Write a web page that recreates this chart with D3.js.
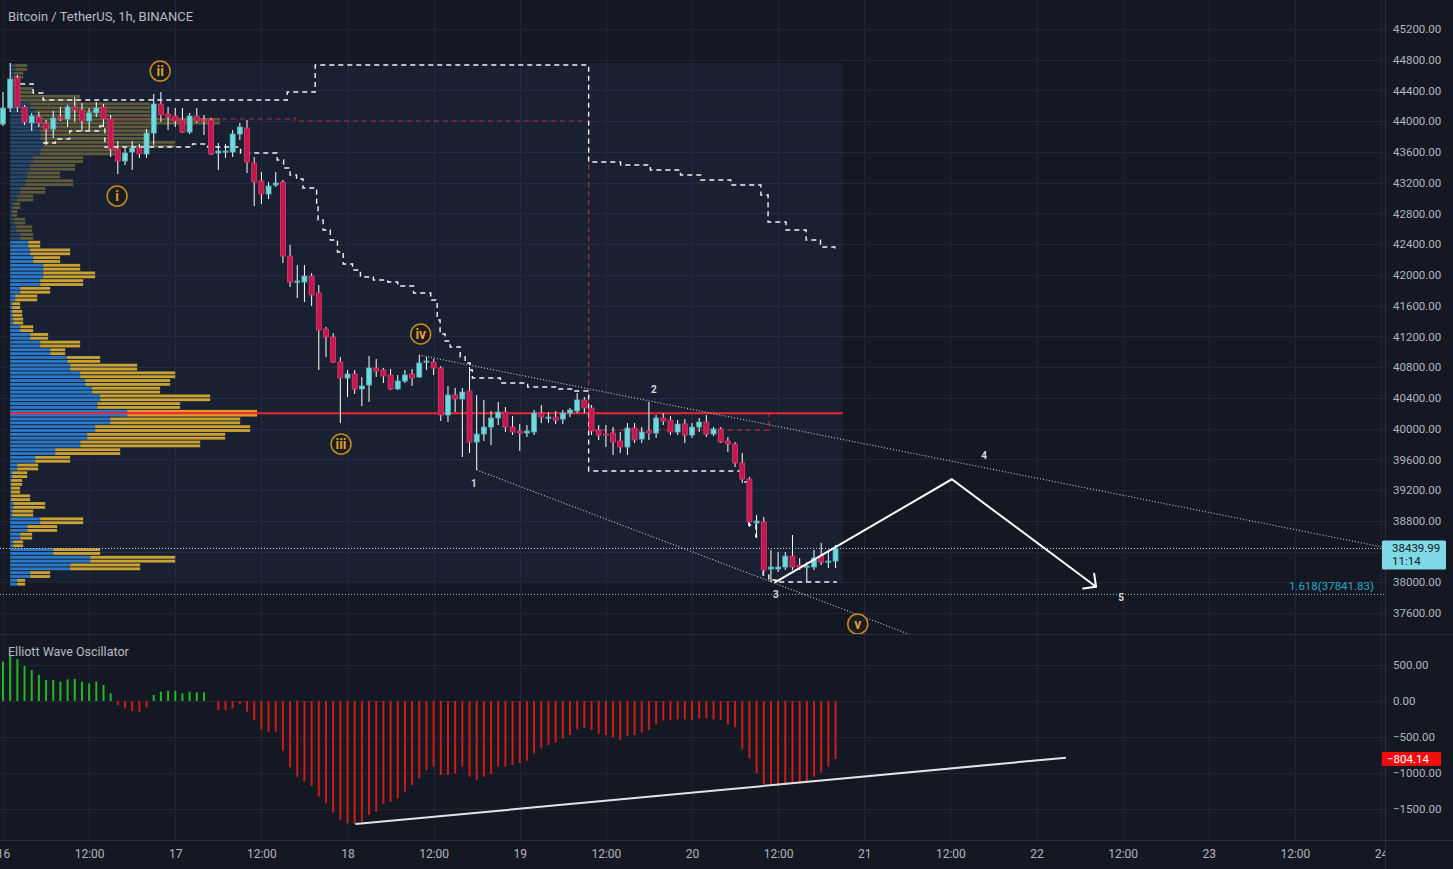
<!DOCTYPE html>
<html><head><meta charset="utf-8">
<script src="https://cdn.jsdelivr.net/npm/d3@7"></script>
<style>
html,body{margin:0;padding:0;background:#141823;overflow:hidden}
svg{display:block}
text{font-family:Roboto,"Noto Sans",sans-serif}
</style></head><body>
<svg id="c" width="1453" height="869"></svg>
<script>
// ---------------- DATA ----------------
const title = "Bitcoin / TetherUS, 1h, BINANCE";
const oscTitle = "Elliott Wave Oscillator";
const startTime = Date.UTC(2022, 0, 16, 0, 0);   // first candle, hourly bars
const endTime = Date.UTC(2022, 0, 24, 0, 0);

const opens = [43963,44172,44562,44185,43977,44055,43977,43898,44055,44029,44185,44146,44003,44107,44185,44029,43638,43482,43599,43651,
43573,43846,44224,44094,44068,44016,43859,44068,44016,44016,43586,43599,43599,43833,43911,43456,43222,43053,43170,43209,
42246,41907,41907,41985,41764,41296,41191,40866,40658,40710,40515,40567,40788,40762,40697,40515,40619,40710,40671,40866,
40866,40788,40177,40437,40385,40489,39825,39929,40020,40137,40215,40020,39968,39942,39955,40202,40137,40150,40124,40202,
40229,40372,40268,39981,39929,39942,39838,39760,40007,39864,39968,39942,40137,40111,39955,40059,39916,40020,40085,39929,
39994,39838,39799,39552,39343,38771,38784,38172,38172,38198,38341,38224,38198,38198,38341,38263,38276];
const highs = [44380,44757,44601,44211,44107,44120,44016,44133,44185,44211,44315,44237,44172,44250,44224,44081,43742,43651,43742,43703,
43898,44354,44380,44185,44172,44172,44107,44172,44081,44042,43716,43703,43885,43977,44016,43534,43339,43209,43339,43235,
42389,42128,42128,42024,41868,41322,41243,40931,40762,40762,40671,40944,40905,40788,40775,40697,40762,40775,40957,40931,
40905,40814,40554,40528,40528,40801,40437,40372,40229,40346,40281,40163,40059,40046,40242,40307,40215,40229,40242,40268,
40463,40411,40307,40046,40046,40020,39955,40072,40072,40020,40346,40176,40202,40163,40111,40124,40072,40137,40176,40020,
40020,39890,39825,39682,39369,38875,38849,38420,38393,38393,38615,38315,38263,38420,38511,38393,38485];
const lows = [43937,44120,44120,43950,43872,43924,43690,43781,44003,43924,43990,43872,43885,44055,43924,43534,43313,43430,43365,43521,
43521,43690,43990,43885,43924,43846,43833,43977,43820,43560,43365,43521,43534,43755,43326,42896,42922,42987,43144,42155,
41842,41699,41647,41595,40762,40931,40853,40072,40411,40450,40294,40346,40671,40593,40502,40502,40593,40554,40658,40762,
40697,40098,40085,40215,39630,39682,39461,39838,39786,40046,39955,39916,39708,39890,39916,40072,40072,40059,40059,40150,
40202,40202,39916,39851,39760,39656,39682,39656,39812,39812,39851,39877,40046,39916,39916,39812,39877,39955,39890,39903,
39812,39695,39500,39292,38719,38589,38120,38003,38133,38159,38159,38159,38003,38159,38224,38185,38185];
const closes = [44172,44549,44185,43990,44068,43977,43898,44042,44029,44185,44146,44003,44107,44172,44029,43638,43482,43586,43651,43573,
43846,44224,44081,44055,44003,43859,44068,44003,44003,43573,43612,43612,43833,43924,43469,43209,43053,43157,43196,42246,
41907,41920,41985,41738,41283,41191,40866,40658,40710,40515,40554,40788,40749,40684,40515,40619,40697,40658,40853,40879,
40788,40177,40437,40385,40476,39825,39929,40020,40137,40215,40020,39955,39942,39968,40202,40150,40150,40111,40202,40242,
40372,40268,39968,39916,39916,39825,39760,40007,39851,39955,39942,40137,40098,39955,40059,39916,40020,40085,39929,39994,
39825,39799,39552,39343,38784,38797,38159,38198,38198,38341,38198,38198,38211,38315,38263,38276,38439.99];

const ewo = [545,625,580,486,430,361,292,292,268,301,306,268,245,268,222,107,-56,-102,-139,-148,
-88,83,130,143,143,107,130,120,120,-10,-125,-134,-102,-42,-148,-264,-393,-426,-426,-690,
-921,-1051,-1120,-1180,-1329,-1421,-1551,-1653,-1699,-1708,-1676,-1583,-1537,-1431,-1398,-1352,-1259,-1167,-1074,-958,
-912,-1028,-1028,-1005,-912,-1051,-1097,-1051,-1014,-912,-912,-889,-866,-829,-727,-657,-611,-579,-518,-472,
-393,-370,-403,-458,-472,-505,-542,-486,-472,-440,-403,-324,-273,-264,-255,-255,-264,-241,-241,-255,
-264,-324,-366,-671,-796,-1005,-1153,-1167,-1180,-1167,-1153,-1134,-1120,-1051,-995,-912,-804.14];

const priceTicks = [37600,38000,38400,38800,39200,39600,40000,40400,40800,41200,41600,42000,42400,42800,43200,43600,44000,44400,44800,45200];
const ewoTicks = [500, 0, -500, -1000, -1500];

// visible-range volume profile (100 USDT rows, from 38000 upward)
const profileLevels = d3.range(38000, 44701, 100);
const profileUp = [70,200,600,800,430,30,100,170,300,20,30,10,10,10,20,70,250,450,700,770,
850,1000,1170,870,900,820,750,700,600,570,400,300,200,100,30,20,20,50,100,300,
330,330,230,200,180,100,60,40,20,30,70,100,150,170,200,230,300,330,300,300,
300,250,200,100,60,30,40,50];
const profileDown = [80,200,700,850,470,100,120,300,430,210,320,190,90,110,150,210,350,650,1200,1380,
1550,1300,1300,830,1100,680,850,950,670,330,150,400,180,130,100,100,80,220,300,430,
520,370,270,400,120,130,160,110,50,70,160,250,480,330,450,500,770,1320,1100,1100,
1800,1150,1200,600,170,70,90,120];
const pocPrice = 40200;
const dimAbove = 42450;

// developing bands (hour offset, price)
const upperBandH = [2.4,4.2,5.6,39.6,43.5,81.45,81.6,86.05,90.2,94.4,97.2,101.4,105.6,106.6,109.1,111.9,113.9,115.9];
const upperBandP = [44484,44367,44276,44380,44731,44731,43469,43430,43365,43300,43235,43169,43040,42688,42584,42454,42363,42324];
const lowerBandH = [5.6,7.3,9.3,13.5,14.2,26.4,28.5,33.1,38.2,39.1,40.0,40.9,41.8,43.7,43.9,44.6,45.6,46.6,47.4,48.7,
49.8,51.6,53.6,55.0,57.2,59.6,60.5,60.9,61.6,62.3,63.7,64.4,65.1,65.4,69.3,73.1,77.3,79.5,81.5,
81.6,102.5,103.2,103.9,104.9,105.9,106.7,107.7,116.2];
const lowerBandP = [43716,43768,43872,43937,43664,43703,43664,43586,43495,43391,43300,43248,43131,42909,42714,42584,42454,42298,42142,42064,
41972,41933,41907,41855,41764,41673,41413,41231,41140,41061,40931,40853,40762,40658,40593,40541,40515,40489,40463,
39448,39448,39304,38745,38589,38094,38029,38003,38003];
const devPocH = [14.2,40.0,40.7,81.45,81.6,106.6,106.7];
const devPocP = [44029,44042,44003,44003,39981,39981,40189];

// trend lines (two anchors each)
const upperTrendH = [58, 119.5], upperTrendP = [40957, 39812];
const lowerTrendH = [66, 97.2],  lowerTrendP = [39461, 38354];
// projected wave path 3 -> 4 -> 5
const projH = [107.5, 132.2, 152.3], projP = [37995, 39340, 37942];
// oscillator divergence line
const ewoTrendH = [49.1, 148.1], ewoTrendV = [-1710, -787];

const lastPrice = 38439.99, countdown = "11:14";
const fibLevelText = "1.618(37841.83)", fibLevel = 37841.83;
const lastEwo = -804.14;

const waveNames = ["i","ii","iii","iv","v"];
const waveH = [15.9, 21.9, 47.1, 58.2, 119.1];
const waveP = [43026, 44653, 39799, 41231, 37456];
const subNames = ["1","2","3","4","5"];
const subH = [65.6, 90.7, 107.7, 136.7, 155.8];
const subP = [39291, 40515, 37847, 39656, 37808];

// ---------------- LAYOUT ----------------
const W = 1453, H = 869, plotR = 1385;
const priceTop = 0, priceBot = 634, oscTop = 635, oscBot = 840;
const svg = d3.select("#c");
const tAt = h => new Date(startTime + h * 3600e3);

const x = d3.scaleUtc().domain([new Date(startTime), new Date(endTime)]).range([3, 1381]);
const y = d3.scaleLinear().domain([37600, 45200]).range([613, 29]);
const yo = d3.scaleLinear().domain([-1500, 500]).range([809, 665]);
const vol = d3.scaleLinear().domain([0, d3.max(profileUp.map((u, i) => u + profileDown[i]))]).range([0, 247]);

svg.append("rect").attr("width", W).attr("height", H).attr("fill", "#141823");
const defs = svg.append("defs");
defs.append("clipPath").attr("id", "pc").append("rect").attr("x", 0).attr("y", priceTop).attr("width", plotR).attr("height", priceBot - priceTop);
defs.append("clipPath").attr("id", "oc").append("rect").attr("x", 0).attr("y", oscTop).attr("width", plotR).attr("height", oscBot - oscTop);
defs.append("clipPath").attr("id", "tc").append("rect").attr("x", 0).attr("y", oscBot).attr("width", plotR).attr("height", H - oscBot);

const gridColor = "#212533";
const timeTicks = d3.utcHour.every(12).range(new Date(startTime), new Date(endTime + 1));
// grid
const grid = svg.append("g");
grid.selectAll(".vg").data(timeTicks).join("line")
  .attr("x1", d => Math.round(x(d)) + 0.5).attr("x2", d => Math.round(x(d)) + 0.5)
  .attr("y1", 0).attr("y2", oscBot).attr("stroke", gridColor);
grid.selectAll(".hg").data(priceTicks).join("line")
  .attr("x1", 0).attr("x2", plotR).attr("y1", d => Math.round(y(d)) + 0.5).attr("y2", d => Math.round(y(d)) + 0.5)
  .attr("stroke", gridColor);
grid.selectAll(".og").data(ewoTicks).join("line")
  .attr("x1", 0).attr("x2", plotR).attr("y1", d => Math.round(yo(d)) + 0.5).attr("y2", d => Math.round(yo(d)) + 0.5)
  .attr("stroke", gridColor);

// ---------------- PRICE PANE ----------------
const pp = svg.append("g").attr("clip-path", "url(#pc)");
const n = closes.length;
const boxX0 = x(tAt(1)), boxX1 = x(tAt(n));
const hiAll = d3.max(highs), loAll = d3.min(lows);
pp.append("rect").attr("x", boxX0).attr("y", y(hiAll)).attr("width", boxX1 - boxX0).attr("height", y(loAll) - y(hiAll))
  .attr("fill", "rgba(70,110,180,0.10)");

// volume profile
const step = Math.abs(y(100) - y(0));
const prof = pp.append("g");
profileLevels.forEach((lv, i) => {
  const yc = y(lv);
  const dim = lv > dimAbove;
  const bCol = dim ? "#26466a" : "#2a78c8";
  const gCol = dim ? "#5f5a3c" : (lv === pocPrice ? "#e39a2c" : "#c9a233");
  const wU = vol(profileUp[i]), wT = vol(profileUp[i] + profileDown[i]);
  [yc - step / 2 + 0.5, yc + 0.5].forEach(sy => {
    prof.append("rect").attr("x", boxX0).attr("y", sy).attr("width", wU).attr("height", step / 2 - 1).attr("fill", bCol);
    prof.append("rect").attr("x", boxX0 + wU).attr("y", sy).attr("width", wT - wU).attr("height", step / 2 - 1).attr("fill", gCol);
  });
});

// POC line
pp.append("line").attr("x1", boxX0).attr("x2", boxX1).attr("y1", y(pocPrice)).attr("y2", y(pocPrice))
  .attr("stroke", "#f0262f").attr("stroke-width", 2);

// developing lines
const stepLine = d3.line().x(d => x(tAt(d[0]))).y(d => y(d[1])).curve(d3.curveStepAfter);
pp.append("path").attr("d", stepLine(devPocH.map((h, i) => [h, devPocP[i]])))
  .attr("fill", "none").attr("stroke", "#c62a35").attr("stroke-width", 1.2).attr("stroke-dasharray", "5,4").attr("opacity", 0.9);
pp.append("path").attr("d", stepLine(upperBandH.map((h, i) => [h, upperBandP[i]])))
  .attr("fill", "none").attr("stroke", "#f2f2f2").attr("stroke-width", 1.4).attr("stroke-dasharray", "5,4");
pp.append("path").attr("d", stepLine(lowerBandH.map((h, i) => [h, lowerBandP[i]])))
  .attr("fill", "none").attr("stroke", "#f2f2f2").attr("stroke-width", 1.4).attr("stroke-dasharray", "5,4");

// horizontal dotted lines
pp.append("line").attr("x1", 0).attr("x2", plotR).attr("y1", y(lastPrice)).attr("y2", y(lastPrice))
  .attr("stroke", "#d6d9e0").attr("stroke-dasharray", "1,2");
pp.append("line").attr("x1", 0).attr("x2", plotR).attr("y1", y(fibLevel)).attr("y2", y(fibLevel))
  .attr("stroke", "#8fc4e0").attr("stroke-dasharray", "1,2");
pp.append("text").attr("x", 1374).attr("y", y(fibLevel) - 4).attr("text-anchor", "end")
  .attr("font-size", 11.5).attr("fill", "#2ba7c8").text(fibLevelText);

// trend lines
function ray(hs, ps, xEnd) {
  const x0 = x(tAt(hs[0])), y0 = y(ps[0]), x1 = x(tAt(hs[1])), y1 = y(ps[1]);
  const s = (y1 - y0) / (x1 - x0);
  return [x0, y0, xEnd, y0 + s * (xEnd - x0)];
}
[ray(upperTrendH, upperTrendP, plotR), ray(lowerTrendH, lowerTrendP, plotR)].forEach(r => {
  pp.append("line").attr("x1", r[0]).attr("y1", r[1]).attr("x2", r[2]).attr("y2", r[3])
    .attr("stroke", "#c9ccd4").attr("stroke-width", 1.1).attr("stroke-dasharray", "1,2");
});

// candles
const cg = pp.append("g");
const bw = 5;
for (let i = 0; i < n; i++) {
  const cx = x(tAt(i));
  const up = closes[i] >= opens[i];
  cg.append("line").attr("x1", cx).attr("x2", cx).attr("y1", y(highs[i])).attr("y2", y(lows[i]))
    .attr("stroke", "#ffffff").attr("stroke-width", 1);
  const yt = y(Math.max(opens[i], closes[i])), yb = y(Math.min(opens[i], closes[i]));
  cg.append("rect").attr("x", cx - bw / 2).attr("y", yt).attr("width", bw).attr("height", Math.max(1.2, yb - yt))
    .attr("fill", up ? "#74d7dc" : "#c2184f").attr("stroke", up ? "#4db4bc" : "#e23b6b").attr("stroke-width", 0.8);
}

// projection path
const proj = projH.map((h, i) => [x(tAt(h)), y(projP[i])]);
pp.append("path").attr("d", d3.line()(proj)).attr("fill", "none").attr("stroke", "#ffffff")
  .attr("stroke-width", 2).attr("stroke-linejoin", "miter");
{
  const a = proj[1], b = proj[2];
  const ang = Math.atan2(a[1] - b[1], a[0] - b[0]);
  const L = 13;
  [ang + Math.PI / 4, ang - Math.PI / 4].forEach(t => {
    pp.append("line").attr("x1", b[0]).attr("y1", b[1]).attr("x2", b[0] + L * Math.cos(t)).attr("y2", b[1] + L * Math.sin(t))
      .attr("stroke", "#ffffff").attr("stroke-width", 2).attr("stroke-linecap", "round");
  });
}

// wave labels
waveNames.forEach((t, i) => {
  const cx = x(tAt(waveH[i])), cy = y(waveP[i]);
  pp.append("circle").attr("cx", cx).attr("cy", cy).attr("r", 10).attr("fill", "#1b1c22")
    .attr("stroke", "#c98b1c").attr("stroke-width", 1.5);
  pp.append("text").attr("x", cx).attr("y", cy).attr("dy", "0.36em").attr("text-anchor", "middle")
    .attr("font-size", 14).attr("font-weight", 600).attr("fill", "#e3a532").text(t);
});
subNames.forEach((t, i) => {
  pp.append("text").attr("x", x(tAt(subH[i]))).attr("y", y(subP[i])).attr("dy", "0.35em").attr("text-anchor", "middle")
    .attr("font-size", 10).attr("font-weight", 700).attr("fill", "#d6d8de").text(t);
});

svg.append("text").attr("x", 8).attr("y", 21).attr("font-size", 13).attr("fill", "#b8bbc4").text(title);

// ---------------- OSCILLATOR ----------------
const op = svg.append("g").attr("clip-path", "url(#oc)");
op.selectAll(".eb").data(ewo).join("line")
  .attr("x1", (d, i) => x(tAt(i))).attr("x2", (d, i) => x(tAt(i)))
  .attr("y1", yo(0)).attr("y2", d => yo(d))
  .attr("stroke", d => d >= 0 ? "#22b822" : "#d01a1a").attr("stroke-width", 2);
op.append("line")
  .attr("x1", x(tAt(ewoTrendH[0]))).attr("y1", yo(ewoTrendV[0]))
  .attr("x2", x(tAt(ewoTrendH[1]))).attr("y2", yo(ewoTrendV[1]))
  .attr("stroke", "#e4e4e8").attr("stroke-width", 2);
svg.append("text").attr("x", 8).attr("y", 656).attr("font-size", 12.5).attr("fill", "#b8bbc4").text(oscTitle);

// ---------------- SEPARATORS & AXES ----------------
const sepCol = "#2a2e39";
svg.append("line").attr("x1", 0).attr("x2", W).attr("y1", 634.5).attr("y2", 634.5).attr("stroke", sepCol);
svg.append("line").attr("x1", 0).attr("x2", W).attr("y1", oscBot + 0.5).attr("y2", oscBot + 0.5).attr("stroke", sepCol);
svg.append("line").attr("x1", plotR + 0.5).attr("x2", plotR + 0.5).attr("y1", 0).attr("y2", H).attr("stroke", sepCol);

const lp = y(lastPrice);
const minus = v => (v < 0 ? "\u2212" : "") + Math.abs(v).toFixed(2);
// price-axis labels hidden behind the last-price tag are not drawn
const visiblePriceTicks = priceTicks.filter(p => Math.abs(y(p) - (lp + 6.5)) > 20);
const ax1 = svg.append("g").attr("transform", `translate(${plotR},0)`)
  .call(d3.axisRight(y).tickValues(visiblePriceTicks).tickFormat(d => d.toFixed(2)).tickSize(0).tickPadding(8));
const ax2 = svg.append("g").attr("transform", `translate(${plotR},0)`)
  .call(d3.axisRight(yo).tickValues(ewoTicks).tickFormat(minus).tickSize(0).tickPadding(8));
const ax3wrap = svg.append("g").attr("clip-path", "url(#tc)");
const ax3 = ax3wrap.append("g").attr("transform", `translate(0,${oscBot})`)
  .call(d3.axisBottom(x).tickValues(timeTicks)
    .tickFormat(d => d.getUTCHours() === 0 ? String(d.getUTCDate()) : d3.utcFormat("%H:%M")(d))
    .tickSize(0).tickPadding(9));
[ax1, ax2, ax3].forEach(a => {
  a.select(".domain").remove();
  a.selectAll("text").attr("fill", "#b2b5be").attr("font-size", 11.5).attr("font-family", "Roboto, sans-serif");
});
ax3.selectAll("text").attr("font-size", 12);

// last price tag
svg.append("rect").attr("x", 1382).attr("y", lp - 8).attr("width", 64).attr("height", 29).attr("rx", 1.5).attr("fill", "#80d9e6");
svg.append("text").attr("x", 1392).attr("y", lp + 4).attr("font-size", 11.5).attr("fill", "#131722").text(lastPrice.toFixed(2));
svg.append("text").attr("x", 1392).attr("y", lp + 17).attr("font-size", 11.5).attr("fill", "#131722").text(countdown);
// last EWO tag
const le = yo(lastEwo);
svg.append("rect").attr("x", 1382).attr("y", le - 7).attr("width", 59).attr("height", 14).attr("fill", "#f20d0d");
svg.append("text").attr("x", 1387).attr("y", le).attr("dy", "0.35em").attr("font-size", 11.5).attr("fill", "#ffffff").text(minus(lastEwo));
</script>
</body></html>
